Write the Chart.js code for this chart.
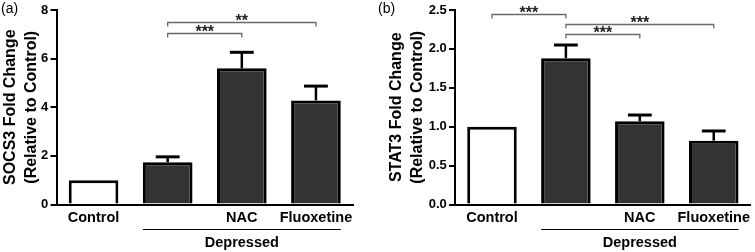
<!DOCTYPE html>
<html><head><meta charset="utf-8">
<script src="https://cdn.jsdelivr.net/npm/chart.js@4"></script>
<style>
html,body{margin:0;padding:0;background:#fff;width:755px;height:252px;overflow:hidden}
canvas{position:absolute;top:0}
#c1{left:0}
#c2{left:377px}
</style></head><body>
<canvas id="c1" width="377" height="252"></canvas>
<canvas id="c2" width="378" height="252"></canvas>
<script>
// ---- data ----
const categories = ['Control', '', 'NAC', 'Fluoxetine'];
const socs3Mean = [1.0, 1.74, 5.6, 4.28];
const socs3Err  = [0, 0.22, 0.66, 0.59];
const stat3Mean = [1.0, 1.88, 1.07, 0.82];
const stat3Err  = [0, 0.17, 0.08, 0.125];
const socs3Ticks = [0, 2, 4, 6, 8];
const stat3Ticks = [0, 0.5, 1.0, 1.5, 2.0, 2.5];
const groupLabel = 'Depressed';
const groupRange = [1, 3];
const socs3Brackets = [
  {from: 1, to: 2, y: 7.06, label: '***'},
  {from: 1, to: 3, y: 7.49, label: '**'}
];
const stat3Brackets = [
  {from: 0, to: 1, y: 2.45, label: '***'},
  {from: 1, to: 3, y: 2.32, label: '***'},
  {from: 1, to: 2, y: 2.19, label: '***'}
];

// ---- styles ----
const FONT = '"Liberation Sans", Arial, sans-serif';
const barFill = ['#ffffff', '#333333', '#333333', '#333333'];
Chart.defaults.font.family = FONT;

const annot = {
  id: 'annot',
  afterDatasetsDraw(chart, args, o) {
    const {ctx} = chart;
    const xs = chart.scales.x, ys = chart.scales.y;
    const meta = chart.getDatasetMeta(0);
    ctx.save();
    // error bars (upper only)
    o.err.forEach((e, i) => {
      if (!e) return;
      const bar = meta.data[i];
      const cx = bar.x;
      const y0 = ys.getPixelForValue(o.mean[i]);
      const y1 = ys.getPixelForValue(o.mean[i] + e);
      const cap = bar.width * 0.24;
      ctx.strokeStyle = '#000'; ctx.lineCap = 'butt';
      ctx.lineWidth = 2.5;
      ctx.beginPath(); ctx.moveTo(cx, y0); ctx.lineTo(cx, y1); ctx.stroke();
      ctx.lineWidth = 3;
      ctx.beginPath(); ctx.moveTo(cx - cap, y1); ctx.lineTo(cx + cap, y1); ctx.stroke();
    });
    // significance brackets
    o.brackets.forEach(b => {
      const x1 = xs.getPixelForValue(b.from), x2 = xs.getPixelForValue(b.to);
      const yy = Math.round(ys.getPixelForValue(b.y)) + 0.5;
      ctx.strokeStyle = '#6a6a6a'; ctx.lineWidth = 1.3;
      ctx.beginPath();
      ctx.moveTo(x1, yy + 4); ctx.lineTo(x1, yy); ctx.lineTo(x2, yy); ctx.lineTo(x2, yy + 4);
      ctx.stroke();
      ctx.fillStyle = '#222'; ctx.font = 'bold 16px ' + FONT;
      ctx.textAlign = 'center'; ctx.textBaseline = 'alphabetic';
      ctx.fillText(b.label, (x1 + x2) / 2, yy + 3.5);
    });
    // group line + label
    const l = meta.data[groupRange[0]], r = meta.data[groupRange[1]];
    const gx1 = l.x - l.width / 2, gx2 = r.x + r.width / 2;
    const gy = Math.round(chart.chartArea.bottom + 24.5) + 0.5;
    ctx.strokeStyle = '#000'; ctx.lineWidth = 1.2;
    ctx.beginPath(); ctx.moveTo(gx1, gy); ctx.lineTo(gx2, gy); ctx.stroke();
    ctx.fillStyle = '#000'; ctx.font = 'bold 14.5px ' + FONT;
    ctx.textAlign = 'center'; ctx.textBaseline = 'middle';
    ctx.fillText(groupLabel, (gx1 + gx2) / 2, gy + 13.5);
    // panel label
    ctx.font = '14px ' + FONT; ctx.textAlign = 'left'; ctx.textBaseline = 'top';
    ctx.fillText(o.panel, 1, 2);
    ctx.restore();
  }
};

function makeChart(id, mean, err, ticks, decimals, yMax, title, brackets, panel, pad, yWidth, titlePad) {
  return new Chart(document.getElementById(id), {
    type: 'bar',
    data: {
      labels: categories,
      datasets: [{
        data: mean,
        backgroundColor: barFill,
        borderColor: '#000',
        borderWidth: 3,
        barPercentage: 0.67,
        categoryPercentage: 1
      }]
    },
    options: {
      responsive: false,
      animation: false,
      layout: {padding: pad},
      plugins: {
        legend: {display: false},
        tooltip: {enabled: false},
        annot: {mean: mean, err: err, brackets: brackets, panel: panel}
      },
      scales: {
        x: {
          offset: true,
          grid: {display: false, drawTicks: false, tickLength: 0},
          border: {display: true, color: '#000', width: 2},
          ticks: {color: '#000', font: {size: 14.5, weight: 'bold'}, padding: 4.5, maxRotation: 0, autoSkip: false},
          afterFit: s => { s.height = 47.5; }
        },
        y: {
          min: 0, max: yMax,
          afterBuildTicks: s => { s.ticks = ticks.map(v => ({value: v})); },
          ticks: {color: '#000', font: {size: 13, weight: 'bold'}, padding: 2.2,
                  callback: v => Number(v).toFixed(decimals)},
          grid: {display: true, drawOnChartArea: false, drawTicks: true, tickLength: 6, color: '#000', lineWidth: 2},
          border: {display: true, color: '#000', width: 2},
          title: {display: true, text: title, color: '#000',
                  font: {size: 16, weight: 'bold', lineHeight: 1.28},
                  padding: {top: titlePad, bottom: 0}},
          afterFit: s => { s.width = yWidth; }
        }
      }
    },
    plugins: [annot]
  });
}

makeChart('c1', socs3Mean, socs3Err, socs3Ticks, 0, 8,
  ['SOCS3 Fold Change', '(Relative to Control)'], socs3Brackets, '(a)',
  {top: 9.3, right: 24, left: 0, bottom: 0}, 56.5, 0.75);
makeChart('c2', stat3Mean, stat3Err, stat3Ticks, 1, 2.5,
  ['STAT3 Fold Change', '(Relative to Control)'], stat3Brackets, '(b)',
  {top: 8.3, right: 4, left: 0, bottom: 0}, 78, 9.46);
</script>
</body></html>
